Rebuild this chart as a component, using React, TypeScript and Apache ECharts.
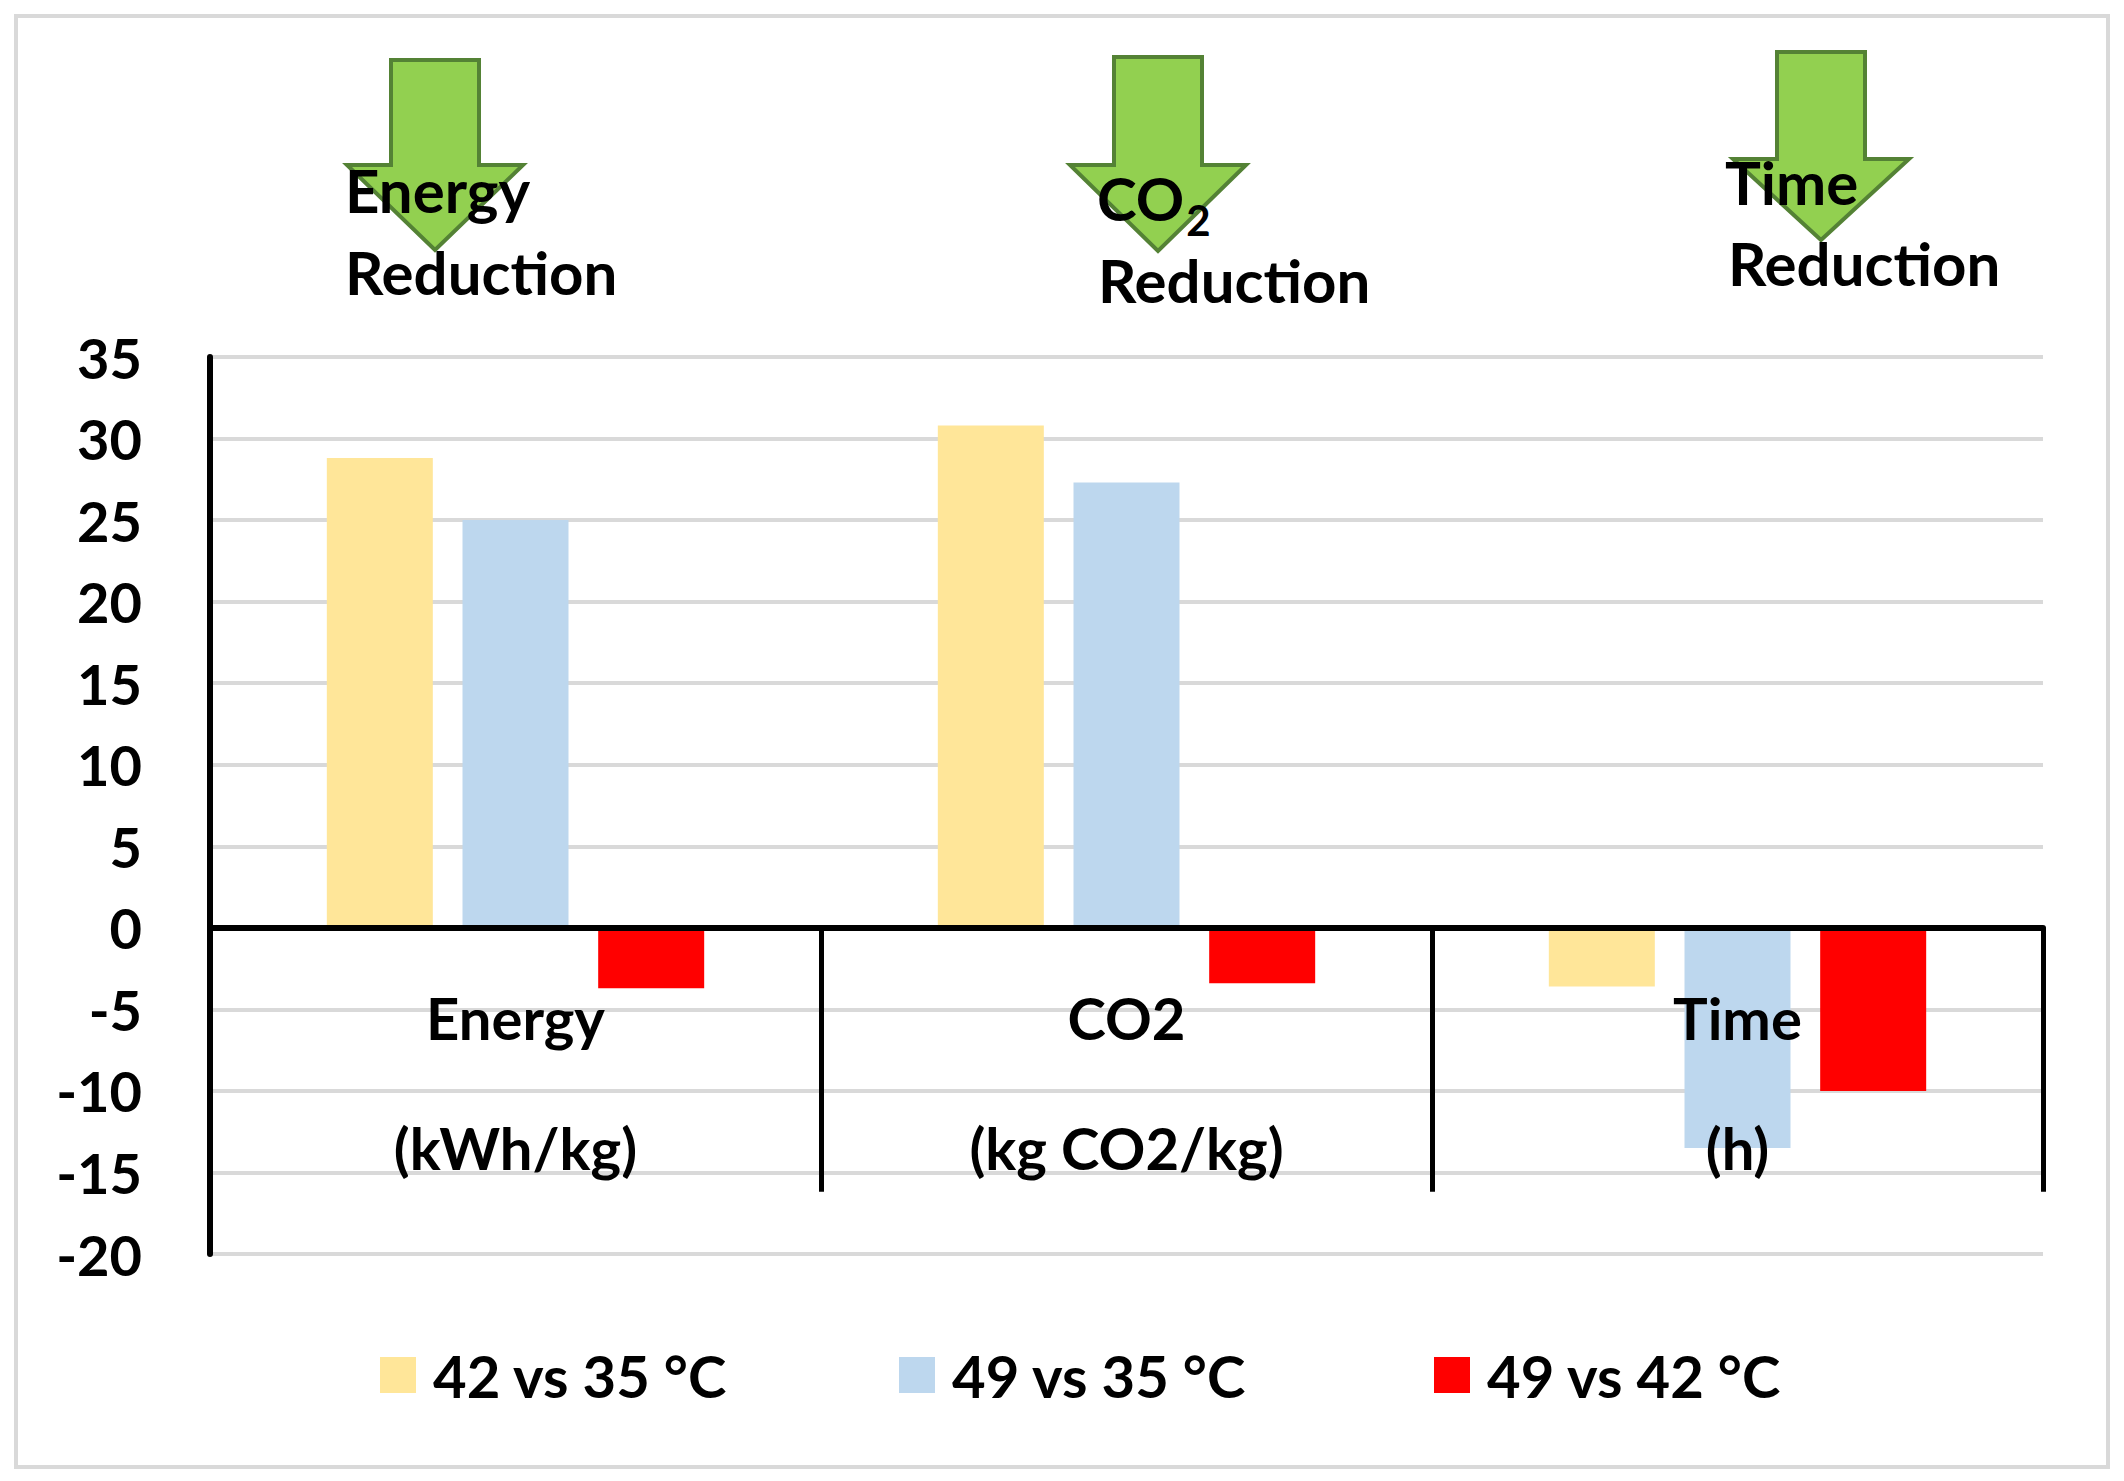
import React, { useEffect, useRef } from "react";
import * as echarts from "echarts";

const categories = ["Energy\n(kWh/kg)", "CO2\n(kg CO2/kg)", "Time\n(h)"];
const seriesNames = ["42 vs 35 °C", "49 vs 35 °C", "49 vs 42 °C"];
const s42vs35 = [28.8, 30.8, -3.6];
const s49vs35 = [25.0, 27.3, -13.5];
const s49vs42 = [-3.7, -3.4, -10.0];
const colors = ["#FFE699", "#BDD7EE", "#FF0000"];
const yMin = -20;
const yMax = 35;
const yStep = 5;

const FONT = "Lato";

const GRID_TOP = 357;
const GRID_BOTTOM = 227;
const CHART_H = 1481;

function arrow(cx: number, top: number, headY: number, tipY: number, shaftHalf: number, headHalf: number) {
  return {
    type: "polygon",
    z: 10,
    shape: {
      points: [
        [cx - shaftHalf, top],
        [cx + shaftHalf, top],
        [cx + shaftHalf, headY],
        [cx + headHalf, headY],
        [cx, tipY],
        [cx - headHalf, headY],
        [cx - shaftHalf, headY],
      ],
    },
    style: { fill: "#92D050", stroke: "#548235", lineWidth: 4 },
  };
}

function label(text: string, x: number, y: number, size = 60) {
  return {
    type: "text",
    z: 20,
    x,
    y,
    style: {
      text,
      fontFamily: FONT,
      fontWeight: "bold",
      fontSize: size,
      fill: "#000",
      align: "left",
      verticalAlign: "middle",
    },
  };
}

function measure(text: string, size: number) {
  const ctx = document.createElement("canvas").getContext("2d");
  if (!ctx) return text.length * size * 0.7;
  ctx.font = `bold ${size}px ${FONT}`;
  return ctx.measureText(text).width;
}

export default function App() {
  const ref = useRef<HTMLDivElement>(null);
  useEffect(() => {
    if (!ref.current) return;
    const chart = echarts.init(ref.current, undefined, { renderer: "svg" });
    const data = [s42vs35, s49vs35, s49vs42];
    const legendLefts = [375, 894, 1429];
    const plotH = CHART_H - GRID_TOP - GRID_BOTTOM;
    const zeroOffset = (plotH * (0 - yMin)) / (yMax - yMin);
    const coX = 1097;
    const subX = coX + measure("CO", 60) + 2;
    chart.setOption({
      animation: false,
      backgroundColor: "#fff",
      textStyle: { fontFamily: FONT },
      grid: {
        left: 210,
        right: 81,
        top: GRID_TOP,
        bottom: GRID_BOTTOM,
        containLabel: false,
        outerBoundsMode: "none",
      },
      legend: seriesNames.map((n, i) => ({
        data: [n],
        left: legendLefts[i],
        top: 1341,
        itemWidth: 36,
        itemHeight: 36,
        icon: "rect",
        textStyle: {
          fontFamily: FONT,
          fontWeight: "bold",
          fontSize: 58,
          color: "#000",
          lineHeight: 36,
          padding: [0, 0, 0, 12],
        },
      })),
      xAxis: {
        type: "category",
        data: categories,
        z: 5,
        position: "bottom",
        offset: -zeroOffset,
        axisLine: { show: true, onZero: false, lineStyle: { color: "#000", width: 6 } },
        axisTick: { show: true, length: 264, interval: 0, lineStyle: { color: "#000", width: 5 } },
        axisLabel: {
          interval: 0,
          margin: 25,
          fontFamily: FONT,
          fontWeight: "bold",
          fontSize: 58,
          lineHeight: 130,
          color: "#000",
        },
        splitLine: { show: false },
      },
      yAxis: {
        type: "value",
        min: yMin,
        max: yMax,
        interval: yStep,
        axisLine: { show: true, lineStyle: { color: "#000", width: 6 } },
        axisTick: { show: false },
        axisLabel: {
          margin: 68,
          fontFamily: FONT,
          fontWeight: "bold",
          fontSize: 56,
          color: "#000",
        },
        splitLine: { show: true, lineStyle: { color: "#D9D9D9", width: 4 } },
      },
      series: seriesNames.map((n, i) => ({
        name: n,
        type: "bar",
        data: data[i],
        barWidth: 106,
        barGap: "28%",
        itemStyle: { color: colors[i] },
      })),
      graphic: [
        {
          type: "rect",
          z: 0,
          shape: { x: 16, y: 16, width: 2092, height: 1451 },
          style: { fill: "none", stroke: "#D9D9D9", lineWidth: 4 },
        },
        arrow(435, 60, 165, 250, 44, 88),
        arrow(1158, 57, 165, 251, 44, 88),
        arrow(1821, 52, 159, 240, 44, 88),
        label("Energy", 345, 190),
        label("Reduction", 345, 272),
        label("CO", coX, 198),
        label("2", subX, 220, 42),
        label("Reduction", 1098, 280),
        label("Time", 1725, 182),
        label("Reduction", 1728, 263),
      ],
    });
    return () => chart.dispose();
  }, []);
  return (
    <div
      ref={ref}
      style={{ position: "absolute", left: 0, top: 0, width: 2124, height: 1481 }}
    />
  );
}
